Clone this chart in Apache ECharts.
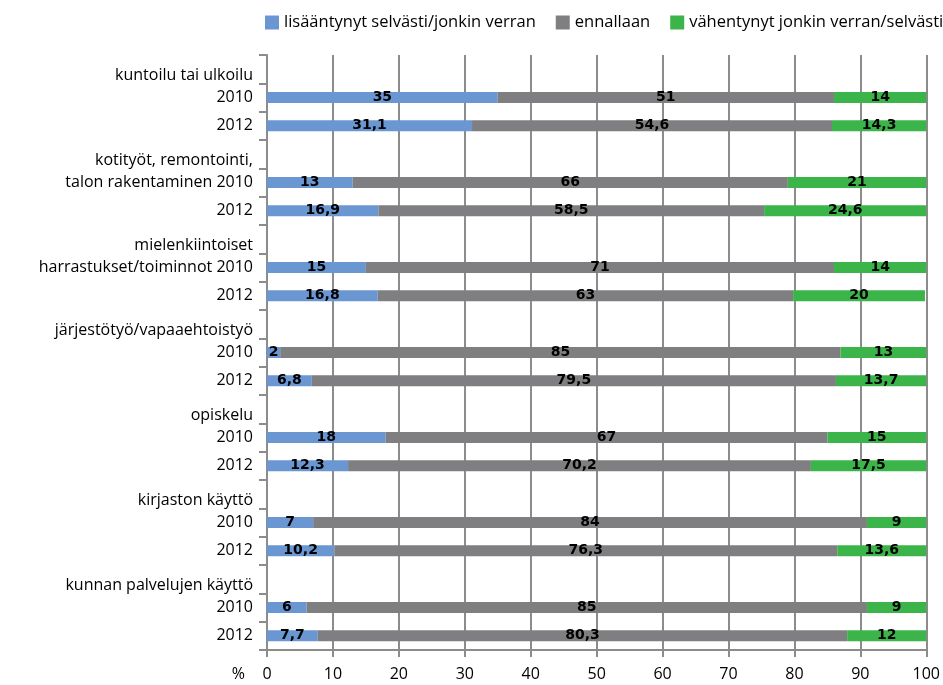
<!DOCTYPE html>
<html>
<head>
<meta charset="utf-8">
<script src="https://cdn.jsdelivr.net/npm/echarts@6/dist/echarts.min.js"></script>
<style>html,body{margin:0;padding:0;background:#fff;}#c{width:943px;height:685px;}</style>
</head>
<body>
<div id="c"></div>
<script>
var groups = [
  "kuntoilu tai ulkoilu",
  "kotityöt, remontointi,\ntalon rakentaminen",
  "mielenkiintoiset\nharrastukset/toiminnot",
  "järjestötyö/vapaaehtoistyö",
  "opiskelu",
  "kirjaston käyttö",
  "kunnan palvelujen käyttö"
];
// true when the year sits on the same line as the last line of the group name
var sameLine = [false, true, true, false, false, false, false];
var years = ["2010", "2012"];
var seriesNames = ["lisääntynyt selvästi/jonkin verran", "ennallaan", "vähentynyt jonkin verran/selvästi"];
// values per group: [2010, 2012]
var increased = [[35, 31.1], [13, 16.9], [15, 16.8], [2, 6.8], [18, 12.3], [7, 10.2], [6, 7.7]];
var unchanged = [[51, 54.6], [66, 58.5], [71, 63], [85, 79.5], [67, 70.2], [84, 76.3], [85, 80.3]];
var decreased = [[14, 14.3], [21, 24.6], [14, 20], [13, 13.7], [15, 17.5], [9, 13.6], [9, 12]];
var xTicks = [0, 10, 20, 30, 40, 50, 60, 70, 80, 90, 100];

var categories = [], labels = [];
var dInc = [], dUnc = [], dDec = [];
groups.forEach(function (g, i) {
  categories.push("g" + i);
  labels.push("");
  dInc.push(null); dUnc.push(null); dDec.push(null);
  years.forEach(function (y, j) {
    categories.push("g" + i + "y" + y);
    var lab;
    if (j === 0) {
      lab = sameLine[i] ? (g + " " + y + "\n ") : (g + "\n" + y + "\n ");
    } else {
      lab = y;
    }
    labels.push(lab);
    dInc.push(increased[i][j]);
    dUnc.push(unchanged[i][j]);
    dDec.push(decreased[i][j]);
  });
});

var colors = ["#6a96d2", "#7f7f81", "#3bb54a"];
var fontFam = "'Open Sans', 'Noto Sans', sans-serif";

function mk(name, data, color) {
  return {
    name: name,
    type: "bar",
    stack: "total",
    data: data,
    barWidth: 11,
    itemStyle: { color: color },
    label: {
      show: true,
      position: "inside",
      color: "#000",
      fontFamily: "'DejaVu Sans', sans-serif",
      fontWeight: "bold",
      fontSize: 14,
      formatter: function (p) { return String(p.value).replace(".", ","); }
    }
  };
}

var chart = echarts.init(document.getElementById("c"), null, { renderer: "canvas" });
chart.setOption({
  animation: false,
  color: colors,
  legend: {
    left: 260,
    top: 9,
    width: 700,
    itemWidth: 14,
    itemHeight: 14,
    itemGap: 20,
    icon: "rect",
    textStyle: { fontFamily: fontFam, fontSize: 16.5, color: "#000" },
    data: seriesNames
  },
  grid: { left: 267, right: 14, top: 55, bottom: 35, containLabel: false },
  xAxis: {
    type: "value",
    min: 0, max: 100, interval: 10,
    name: "%",
    nameLocation: "start",
    nameGap: 22,
    nameTextStyle: { fontFamily: fontFam, fontSize: 16, color: "#000", verticalAlign: "top", padding: [16, 0, 0, 0] },
    axisLine: { show: true, lineStyle: { color: "#8c8c8c", width: 2 } },
    axisTick: { show: true, length: 7, lineStyle: { color: "#8c8c8c", width: 2 } },
    axisLabel: { fontFamily: fontFam, fontSize: 16, color: "#000", margin: 16,
      formatter: function (v) { return xTicks.indexOf(v) >= 0 ? String(v) : ""; } },
    splitLine: { show: true, lineStyle: { color: "#8c8c8c", width: 2 } }
  },
  yAxis: {
    type: "category",
    inverse: true,
    data: categories,
    axisLine: { show: true, lineStyle: { color: "#8c8c8c", width: 2 } },
    axisTick: { show: true, length: 8, lineStyle: { color: "#8c8c8c", width: 2 } },
    axisLabel: {
      margin: 14,
      color: "#000",
      fontFamily: fontFam,
      fontSize: 16,
      lineHeight: 22,
      align: "right",
      interval: 0,
      formatter: function (v, idx) { return labels[idx]; }
    }
  },
  series: [
    mk(seriesNames[0], dInc, colors[0]),
    mk(seriesNames[1], dUnc, colors[1]),
    mk(seriesNames[2], dDec, colors[2])
  ]
});
</script>
</body>
</html>
